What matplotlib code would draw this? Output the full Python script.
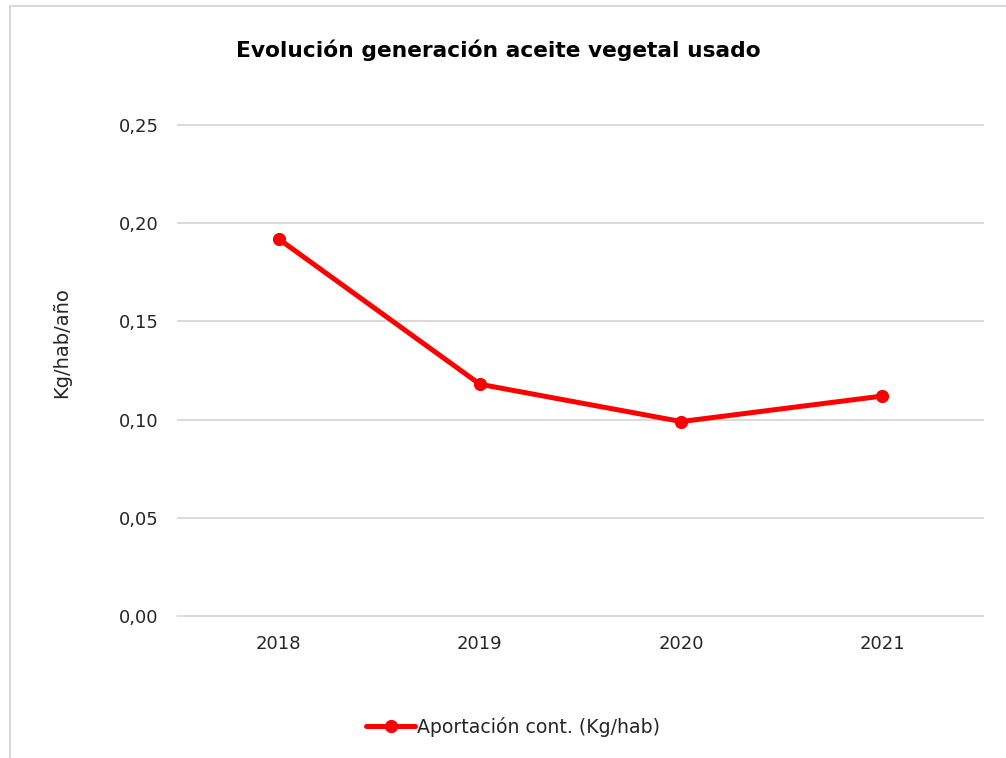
import matplotlib
matplotlib.use('Agg')
import matplotlib.pyplot as plt
from matplotlib.patches import Rectangle

years = ['2018', '2019', '2020', '2021']
kg_hab = [0.192, 0.118, 0.099, 0.112]
y_ticks = [0.00, 0.05, 0.10, 0.15, 0.20, 0.25]
y_tick_labels = ['0,00', '0,05', '0,10', '0,15', '0,20', '0,25']

plt.rcParams['font.family'] = ['DejaVu Sans']

W, H = 1006, 758
fig = plt.figure(figsize=(W / 100, H / 100), dpi=100)
ax = fig.add_axes([178 / W, 1 - 616 / H, (983 - 178) / W, (616 - 125) / H])

x = range(len(years))
line, = ax.plot(x, kg_hab, color='#ff0000', lw=3.6, marker='o', ms=8.5,
                solid_capstyle='round', zorder=3, label='Aportación cont. (Kg/hab)')

ax.set_xlim(-0.5, len(years) - 0.5)
ax.set_ylim(0, 0.25)
ax.set_xticks(list(x))
ax.set_xticklabels(years)
ax.set_yticks(y_ticks)
ax.set_yticklabels(y_tick_labels)
ax.tick_params(length=0, labelsize=13, colors='#262626')
ax.tick_params(axis='y', pad=14)
ax.tick_params(axis='x', pad=14)
ax.yaxis.grid(True, color='#d9d9d9', lw=1.4)
for gl in ax.get_ygridlines():
    gl.set_clip_on(False)
ax.set_axisbelow(True)
for s in ax.spines.values():
    s.set_visible(False)

fig.text(498 / W, 1 - 50 / H, 'Evolución generación aceite vegetal usado',
         ha='center', va='center', fontsize=15.7, fontweight='bold', color='black')
fig.text(62 / W, 1 - 343 / H, 'Kg/hab/año', rotation=90, ha='center',
         va='center', fontsize=14, color='#262626')

fig.legend(handles=[line], loc='center', bbox_to_anchor=(513 / W, 1 - 727 / H),
           frameon=False, fontsize=13.6, handlelength=2.6, handletextpad=0.1,
           labelcolor='#262626')

# light outer frame
fig.patches.append(Rectangle((10 / W, -0.1), 1.2, 1 - 6 / H + 0.1,
                             transform=fig.transFigure, fill=False,
                             edgecolor='#d9d9d9', lw=1.5, zorder=0))

fig.savefig('out.png', dpi=100)
